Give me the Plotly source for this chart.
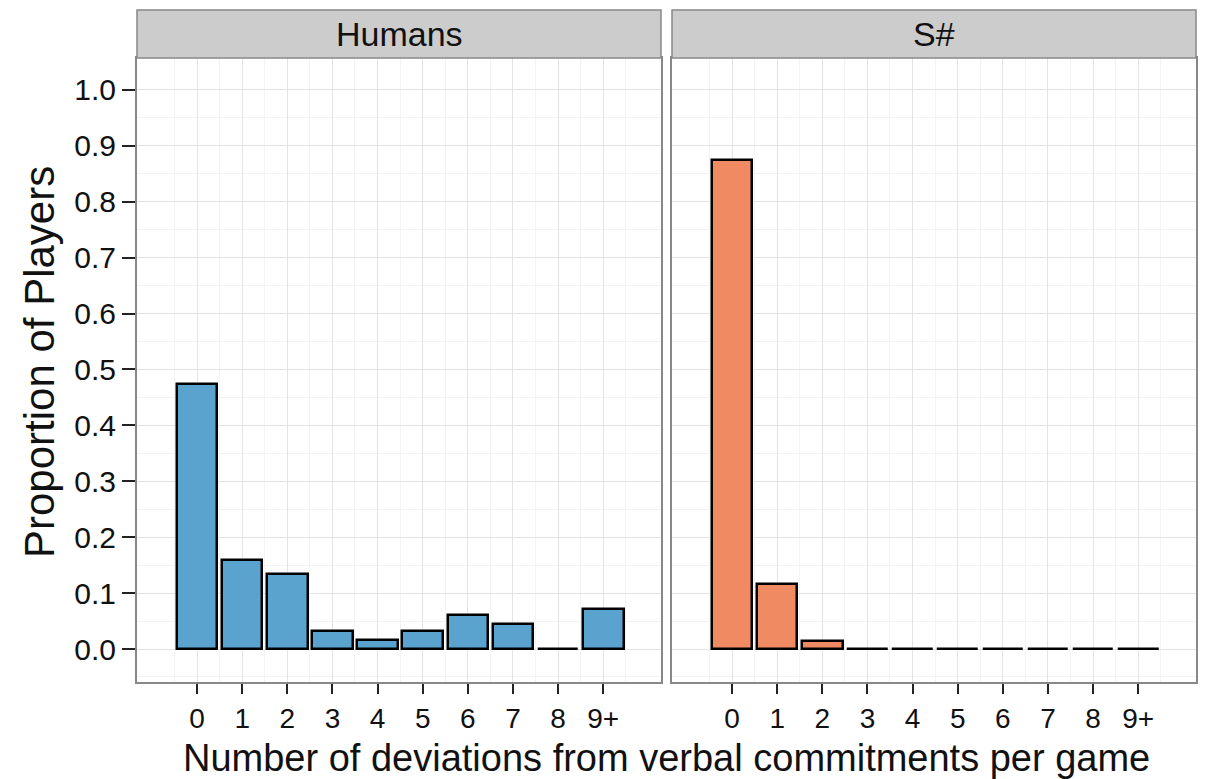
import plotly.graph_objects as go

categories = ["0", "1", "2", "3", "4", "5", "6", "7", "8", "9+"]
positions = list(range(len(categories)))
humans = [0.474, 0.160, 0.134, 0.032, 0.016, 0.032, 0.061, 0.044, 0.0, 0.071]
sharp = [0.875, 0.116, 0.015, 0.0, 0.0, 0.0, 0.0, 0.0, 0.0, 0.0]
panel_names = ["Humans", "S#"]
y_ticks = [0.0, 0.1, 0.2, 0.3, 0.4, 0.5, 0.6, 0.7, 0.8, 0.9, 1.0]
y_labels = ["%.1f" % v for v in y_ticks]

W, H = 1210, 779
dom1 = [137 / W, 661 / W]
dom2 = [672 / W, 1196 / W]
ydom = [1 - 682 / H, 1 - 58 / H]
strip_top = 1 - 10 / H
FONT = "Liberation Sans, Arial"

fig = go.Figure()
fig.add_trace(go.Bar(x=positions, y=humans, width=0.9, marker=dict(color="#5ba3cf", line=dict(color="#000000", width=2.5)),
                     xaxis="x", yaxis="y", showlegend=False))
fig.add_trace(go.Bar(x=positions, y=sharp, width=0.9, marker=dict(color="#ef8a62", line=dict(color="#000000", width=2.5)),
                     xaxis="x2", yaxis="y2", showlegend=False))

xcommon = dict(range=[-1.33, 10.28], tickvals=positions, ticktext=categories, ticks="outside", ticklen=10,
               tickwidth=2, tickcolor="#222222", showline=True, linecolor="#888888", linewidth=2, mirror=True,
               showgrid=True, gridcolor="#e3e3e3", gridwidth=1, zeroline=False,
               tickfont=dict(family=FONT, size=28, color="#111111"),
               minor=dict(tickvals=[p - 0.5 for p in positions] + [9.5], showgrid=True, gridcolor="#f3f3f3", ticks=""))
ycommon = dict(range=[-0.059, 1.057], domain=ydom, tickvals=y_ticks, showline=True, linecolor="#888888", linewidth=2,
               mirror=True, showgrid=True, gridcolor="#e3e3e3", gridwidth=1, zeroline=False,
               minor=dict(tickvals=[v + 0.05 for v in y_ticks[:-1]] + [-0.05], showgrid=True, gridcolor="#f3f3f3", ticks=""))

fig.update_layout(
    width=W, height=H, margin=dict(l=0, r=0, t=0, b=0), plot_bgcolor="white", paper_bgcolor="white",
    bargap=0,
    xaxis=dict(domain=dom1, anchor="y", **xcommon),
    xaxis2=dict(domain=dom2, anchor="y2", **xcommon),
    yaxis=dict(anchor="x", ticktext=y_labels, ticks="outside", ticklen=13, tickwidth=2, tickcolor="#222222",
               tickfont=dict(family=FONT, size=30, color="#111111"), **ycommon),
    yaxis2=dict(anchor="x2", showticklabels=False, ticks="", **ycommon),
)

for dom, name in zip([dom1, dom2], panel_names):
    fig.add_shape(type="rect", xref="paper", yref="paper", x0=dom[0], x1=dom[1], y0=ydom[1], y1=strip_top,
                  fillcolor="#cccccc", line=dict(color="#888888", width=1.5), layer="above")
    fig.add_annotation(x=(dom[0] + dom[1]) / 2, y=(ydom[1] + strip_top) / 2, xref="paper", yref="paper",
                       text=name, showarrow=False, font=dict(family=FONT, size=34, color="#111111"),
                       xanchor="center", yanchor="middle")

fig.add_annotation(x=(dom1[0] + dom2[1]) / 2, y=1 - 758 / H, xref="paper", yref="paper",
                   text="Number of deviations from verbal commitments per game", showarrow=False,
                   font=dict(family=FONT, size=38, color="#111111"), xanchor="center", yanchor="middle")
fig.add_annotation(x=40 / W, y=1 - 362 / H, xref="paper", yref="paper", text="Proportion of Players", textangle=-90,
                   showarrow=False, font=dict(family=FONT, size=42, color="#111111"),
                   xanchor="center", yanchor="middle")

fig.write_html("out.html")
